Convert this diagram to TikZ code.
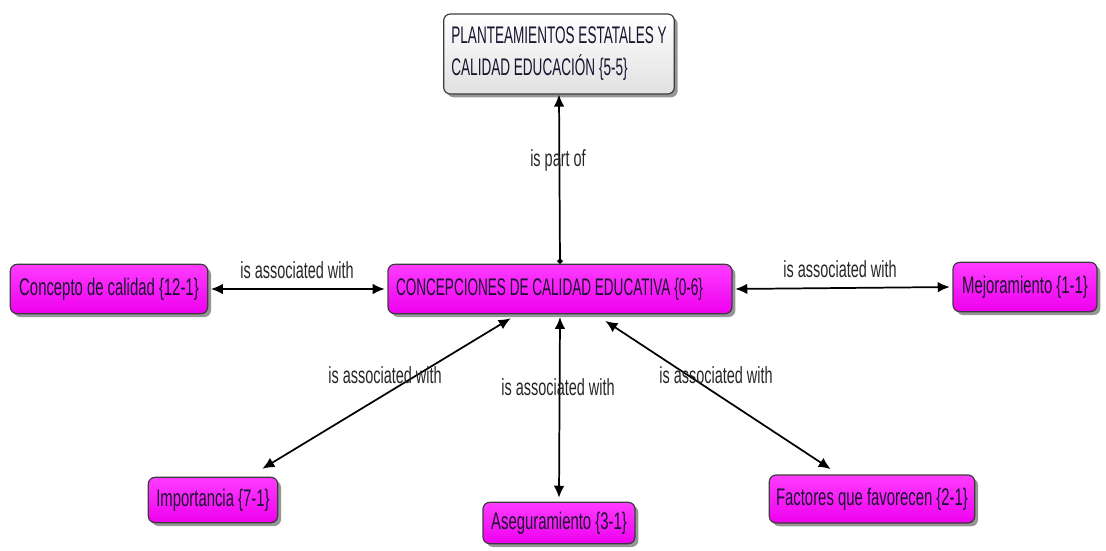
\documentclass[tikz,border=0pt]{standalone}
\usepackage{fontspec}
\setmainfont[FakeStretch=0.62]{Liberation Sans}
\newfontfamily\capsfont[FakeStretch=0.565]{Liberation Sans}
\usepackage{tikz}
\usetikzlibrary{arrows.meta, positioning, shadows}
\usepackage{xcolor}
\definecolor{pinktop}{HTML}{FF3CFF}
\definecolor{pinkbottom}{HTML}{EE00EE}
\definecolor{framegray}{HTML}{3C3C3C}
\definecolor{inkdark}{HTML}{1A1430}

\tikzset{
  conceptbox/.style={draw=framegray, line width=0.9pt, rounded corners=5pt,
    top color=pinktop, bottom color=pinkbottom, text=inkdark,
    drop shadow={shadow xshift=2.5pt, shadow yshift=-2.5pt, fill=black!55, opacity=0.75},
    inner sep=3pt, font=\fontsize{18}{22}\selectfont},
  rootbox/.style={conceptbox, top color=white, bottom color=black!12},
  linkword/.style={text=black!85, inner sep=1pt, font=\fontsize{17.5}{21}\selectfont},
  linkline/.style={line width=1.3pt, {Latex[length=9pt,width=8pt]}-{Latex[length=9pt,width=8pt]}}
}

\begin{document}
\begin{tikzpicture}[x=0.75pt, y=-0.75pt]
  \useasboundingbox (0,0) rectangle (1106,550);

  % concepts
  \node[rootbox, minimum width=173pt, minimum height=60pt, align=left] (plan) at (559,54)
    {\capsfont PLANTEAMIENTOS ESTATALES Y\\[2pt]\capsfont CALIDAD EDUCACIÓN {\{5-5\}}};
  \node[conceptbox, minimum width=258pt, minimum height=37pt, text width=246pt, align=flush left] (central) at (560,289)
    {\capsfont CONCEPCIONES DE CALIDAD EDUCATIVA {\{0-6\}}};
  \node[conceptbox, minimum width=148pt, minimum height=37pt] (concepto) at (109,289)
    {Concepto de calidad {\{12-1\}}};
  \node[conceptbox, minimum width=108pt, minimum height=37pt] (mejora) at (1025,287)
    {Mejoramiento {\{1-1\}}};
  \node[conceptbox, minimum width=97pt, minimum height=34pt] (importancia) at (213,500)
    {Importancia {\{7-1\}}};
  \node[conceptbox, minimum width=114pt, minimum height=31pt] (asegura) at (559,523)
    {Aseguramiento {\{3-1\}}};
  \node[conceptbox, minimum width=154pt, minimum height=36pt] (factores) at (872,499)
    {Factores que favorecen {\{2-1\}}};

  % links
  \draw[line width=1.3pt, {Circle[length=4pt]}-{Latex[length=9pt,width=8pt]}]
    (central.north) -- (plan.south);
  \draw[linkline, shorten <=2pt, shorten >=2pt] (concepto.east) -- (central.west);
  \draw[linkline, shorten <=2pt, shorten >=2pt] (central.east) -- (mejora.west);
  \draw[linkline] ([xshift=-37pt, yshift=-3pt]central.south) -- ([xshift=37pt, yshift=6pt]importancia.north);
  \draw[linkline] ([yshift=-2pt]central.south) -- ([yshift=3pt]asegura.north);
  \draw[linkline] ([xshift=34pt, yshift=-5pt]central.south) -- ([xshift=-31pt, yshift=4pt]factores.north);

  % linking phrases
  \node[linkword] (wpart) at (558,160) {is part of};
  \node[linkword] (wleft) at (297,270) {is associated with};
  \node[linkword] (wright) at (840,269) {is associated with};
  \node[linkword] (wdiagl) at (385,375) {is associated with};
  \node[linkword] (wdown) at (558,387) {is associated with};
  \node[linkword] (wdiagr) at (716,375) {is associated with};
\end{tikzpicture}
\end{document}
